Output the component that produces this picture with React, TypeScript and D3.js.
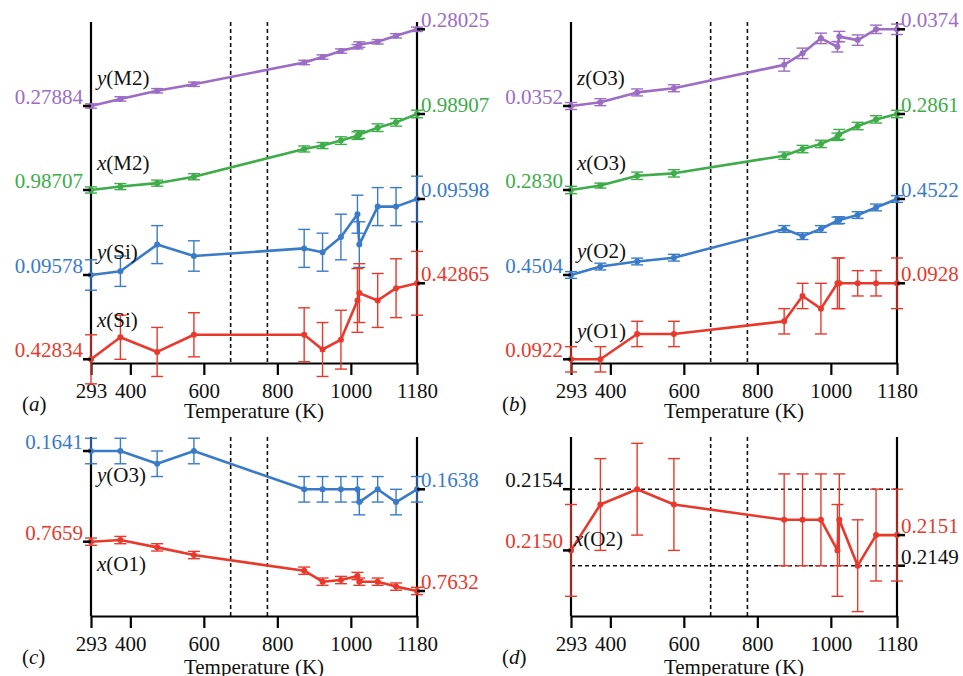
import * as d3 from "d3";
import { useEffect, useRef } from "react";

// temperatures (K) of the measurements
const temps = [293, 373, 473, 573, 873, 923, 973, 1018, 1023, 1073, 1123, 1180];
const tempTicks = [293, 400, 600, 800, 1000, 1180];
const transitionTemps = [673, 773];

// (a)
const yM2 = [0.27884, 0.27897, 0.27912, 0.27924, 0.27964, 0.27974, 0.27985, 0.27993, 0.27997, 0.28002, 0.28013, 0.28025];
const yM2Err = [0.00004, 0.00004, 0.00004, 0.00004, 0.00004, 0.00004, 0.00004, 0.00004, 0.00005, 0.00004, 0.00004, 0.00004];
const xM2 = [0.98707, 0.98716, 0.98725, 0.98742, 0.98815, 0.98824, 0.98837, 0.9885, 0.98853, 0.98871, 0.98885, 0.98907];
const xM2Err = [0.00008, 0.00008, 0.00008, 0.00008, 0.00008, 0.00008, 0.0001, 0.0001, 0.0001, 0.0001, 0.0001, 0.0001];
const ySi = [0.09578, 0.09579, 0.09586, 0.09583, 0.09585, 0.09584, 0.09588, 0.09594, 0.09586, 0.09596, 0.09596, 0.09598];
const ySiErr = [0.00004, 0.00004, 0.00005, 0.00004, 0.00005, 0.00005, 0.00006, 0.00005, 0.00006, 0.00005, 0.00005, 0.00006];
const xSi = [0.42834, 0.42843, 0.42837, 0.42844, 0.42844, 0.42838, 0.42842, 0.42858, 0.42861, 0.42858, 0.42863, 0.42865];
const xSiErr = [0.0001, 0.00009, 0.0001, 0.00009, 0.00011, 0.00011, 0.00012, 0.00013, 0.00012, 0.00011, 0.00012, 0.00013];

// (b)
const zO3 = [0.0352, 0.03531, 0.03559, 0.03571, 0.03638, 0.03671, 0.03714, 0.0369, 0.03719, 0.03709, 0.0374, 0.0374];
const zO3Err = [0.0001, 0.0001, 0.0001, 0.0001, 0.00018, 0.00015, 0.00015, 0.00015, 0.00015, 0.00015, 0.00012, 0.00015];
const xO3 = [0.283, 0.28318, 0.28358, 0.28368, 0.2844, 0.28467, 0.28488, 0.28517, 0.28527, 0.28561, 0.28588, 0.2861];
const xO3Err = [0.00015, 0.0001, 0.00015, 0.00015, 0.00015, 0.00015, 0.00015, 0.00015, 0.0002, 0.00015, 0.00015, 0.00015];
const yO2 = [0.4504, 0.4506, 0.45072, 0.45081, 0.45149, 0.45132, 0.45149, 0.45169, 0.4517, 0.45182, 0.452, 0.4522];
const yO2Err = [0.00008, 0.00008, 0.00008, 0.00008, 0.00008, 0.00008, 0.00008, 0.00008, 0.00008, 0.00008, 0.00008, 0.00008];
const yO1 = [0.0922, 0.0922, 0.0924, 0.0924, 0.0925, 0.0927, 0.0926, 0.0928, 0.0928, 0.0928, 0.0928, 0.0928];
const yO1Err = [0.0001, 0.0001, 0.0001, 0.0001, 0.0001, 0.0001, 0.0002, 0.0002, 0.0002, 0.0001, 0.0001, 0.0002];

// (c)
const yO3 = [0.1641, 0.1641, 0.164, 0.1641, 0.1638, 0.1638, 0.1638, 0.1638, 0.1637, 0.1638, 0.1637, 0.1638];
const yO3Err = [0.0001, 0.0001, 0.0001, 0.0001, 0.0001, 0.0001, 0.0001, 0.0001, 0.0001, 0.0001, 0.0001, 0.0001];
const xO1 = [0.7659, 0.76599, 0.76559, 0.76517, 0.76431, 0.76371, 0.7638, 0.76402, 0.76371, 0.76371, 0.76344, 0.7632];
const xO1Err = [0.0002, 0.0002, 0.0002, 0.0002, 0.0002, 0.0002, 0.0002, 0.0002, 0.0002, 0.0002, 0.0002, 0.0002];

// (d)
const xO2 = [0.215, 0.2153, 0.2154, 0.2153, 0.2152, 0.2152, 0.2152, 0.215, 0.2152, 0.2149, 0.2151, 0.2151];
const xO2Err = [0.0003, 0.0003, 0.0003, 0.0003, 0.0003, 0.0003, 0.0003, 0.0003, 0.0003, 0.0003, 0.0003, 0.0003];
const xO2Levels = [0.2154, 0.2149];

const FONT = "'Liberation Serif', 'DejaVu Serif', serif";
const PURPLE = "#9b6dc5";
const GREEN = "#3dac49";
const BLUE = "#3a7bc9";
const RED = "#e8392c";

type Series = {
  coord: string;
  site: string;
  color: string;
  values: number[];
  errs: number[];
  digits: number;
  yFirst: number; // pixel row of first value
  yLast: number; // pixel row of last value
  labelDy: number;
};

type Panel = {
  tag: string;
  x0: number;
  x1: number;
  top: number;
  bottom: number;
  titleDy: number;
  series: Series[];
  levels?: number[];
};

const panels: Panel[] = [
  {
    tag: "a", x0: 91, x1: 417, top: 22, bottom: 363, titleDy: 55,
    series: [
      { coord: "y", site: "(M2)", color: PURPLE, values: yM2, errs: yM2Err, digits: 5, yFirst: 106, yLast: 29.3, labelDy: -21 },
      { coord: "x", site: "(M2)", color: GREEN, values: xM2, errs: xM2Err, digits: 5, yFirst: 190, yLast: 114, labelDy: -20 },
      { coord: "y", site: "(Si)", color: BLUE, values: ySi, errs: ySiErr, digits: 5, yFirst: 275, yLast: 199, labelDy: -16 },
      { coord: "x", site: "(Si)", color: RED, values: xSi, errs: xSiErr, digits: 5, yFirst: 359.3, yLast: 283.3, labelDy: -32 },
    ],
  },
  {
    tag: "b", x0: 571, x1: 897, top: 22, bottom: 363, titleDy: 55,
    series: [
      { coord: "z", site: "(O3)", color: PURPLE, values: zO3, errs: zO3Err, digits: 4, yFirst: 106, yLast: 29.3, labelDy: -21 },
      { coord: "x", site: "(O3)", color: GREEN, values: xO3, errs: xO3Err, digits: 4, yFirst: 190, yLast: 114, labelDy: -20 },
      { coord: "y", site: "(O2)", color: BLUE, values: yO2, errs: yO2Err, digits: 4, yFirst: 275, yLast: 199, labelDy: -17 },
      { coord: "y", site: "(O1)", color: RED, values: yO1, errs: yO1Err, digits: 4, yFirst: 359.3, yLast: 283.3, labelDy: -21 },
    ],
  },
  {
    tag: "c", x0: 91, x1: 417, top: 437, bottom: 616, titleDy: 58,
    series: [
      { coord: "y", site: "(O3)", color: BLUE, values: yO3, errs: yO3Err, digits: 4, yFirst: 451, yLast: 489.3, labelDy: 31 },
      { coord: "x", site: "(O1)", color: RED, values: xO1, errs: xO1Err, digits: 4, yFirst: 541.7, yLast: 591, labelDy: 29 },
    ],
  },
  {
    tag: "d", x0: 571, x1: 897, top: 437, bottom: 616, titleDy: 58,
    series: [
      { coord: "x", site: "(O2)", color: RED, values: xO2, errs: xO2Err, digits: 4, yFirst: 550.4, yLast: 535.1, labelDy: -4 },
    ],
    levels: xO2Levels,
  },
];

export default function App() {
  const svgRef = useRef<SVGSVGElement>(null);

  useEffect(() => {
    const svg = d3.select(svgRef.current);
    svg.selectAll("*").remove();

    panels.forEach((p) => {
      const g = svg.append("g");
      const x = d3.scaleLinear().domain([293, 1180]).range([p.x0, p.x1]);

      // transition region
      transitionTemps.forEach((t) => {
        g.append("line")
          .attr("x1", x(t)).attr("x2", x(t))
          .attr("y1", p.top).attr("y2", p.bottom)
          .attr("stroke", "#111").attr("stroke-width", 1.6)
          .attr("stroke-dasharray", "4,3");
      });

      // bottom axis
      const axis = g.append("g")
        .attr("transform", `translate(0,${p.bottom})`)
        .call(d3.axisBottom(x).tickValues(tempTicks).tickFormat(d3.format("d")).tickSize(12).tickSizeOuter(0).tickPadding(8));
      axis.attr("font-family", null).attr("font-size", null);
      axis.select(".domain").attr("stroke", "#000").attr("stroke-width", 2.2);
      axis.selectAll(".tick line").attr("stroke", "#000").attr("stroke-width", 2.2);
      axis.selectAll(".tick text")
        .style("font-family", FONT).style("font-size", "21px").attr("fill", "#111");

      // side axes
      [p.x0, p.x1].forEach((xx) => {
        g.append("line")
          .attr("x1", xx).attr("x2", xx)
          .attr("y1", p.top).attr("y2", p.bottom)
          .attr("stroke", "#000").attr("stroke-width", 2.2);
      });

      // title and panel letter
      g.append("text")
        .attr("x", (p.x0 + p.x1) / 2).attr("y", p.bottom + p.titleDy)
        .attr("text-anchor", "middle")
        .style("font-family", FONT).style("font-size", "21px").attr("fill", "#111")
        .text("Temperature (K)");
      const letter = g.append("text")
        .attr("x", p.x0 - 69).attr("y", p.bottom + 48)
        .style("font-family", FONT).style("font-size", "21px").attr("fill", "#111");
      letter.append("tspan").text("(");
      letter.append("tspan").style("font-style", "italic").text(p.tag);
      letter.append("tspan").text(")");

      p.series.forEach((s) => {
        const n = s.values.length;
        const y = d3.scaleLinear()
          .domain([s.values[0], s.values[n - 1]])
          .range([s.yFirst, s.yLast]);

        // reference levels (panel d)
        if (p.levels) {
          p.levels.forEach((lv, i) => {
            g.append("line")
              .attr("x1", p.x0).attr("x2", p.x1)
              .attr("y1", y(lv)).attr("y2", y(lv))
              .attr("stroke", "#111").attr("stroke-width", 1.6)
              .attr("stroke-dasharray", "4,3");
            const onLeft = i === 0;
            g.append("line")
              .attr("x1", onLeft ? p.x0 - 8 : p.x1).attr("x2", onLeft ? p.x0 : p.x1 + 8)
              .attr("y1", y(lv)).attr("y2", y(lv))
              .attr("stroke", "#000").attr("stroke-width", 2.5);
            g.append("text")
              .attr("x", onLeft ? p.x0 - 8 : p.x1 + 4).attr("y", y(lv) - 2)
              .attr("text-anchor", onLeft ? "end" : "start")
              .style("font-family", FONT).style("font-size", "21px").attr("fill", "#111")
              .text(lv.toFixed(s.digits));
          });
        }

        // error bars
        const eb = g.append("g").attr("stroke", s.color).attr("stroke-width", 1.4);
        s.values.forEach((v, i) => {
          const cx = x(temps[i]);
          const yt = y(v + s.errs[i]);
          const yb = y(v - s.errs[i]);
          eb.append("line").attr("x1", cx).attr("x2", cx).attr("y1", yt).attr("y2", yb);
          eb.append("line").attr("x1", cx - 6).attr("x2", cx + 6).attr("y1", yt).attr("y2", yt);
          eb.append("line").attr("x1", cx - 6).attr("x2", cx + 6).attr("y1", yb).attr("y2", yb);
        });

        const line = d3.line<number>()
          .x((_, i) => x(temps[i]))
          .y((d) => y(d));
        g.append("path")
          .attr("d", line(s.values))
          .attr("fill", "none").attr("stroke", s.color).attr("stroke-width", 2.6)
          .attr("stroke-linejoin", "round");
        g.selectAll(null)
          .data(s.values)
          .enter()
          .append("circle")
          .attr("cx", (_, i) => x(temps[i]))
          .attr("cy", (d) => y(d))
          .attr("r", 3)
          .attr("fill", s.color);

        // end ticks and value labels
        const yl = y(s.values[0]);
        const yr = y(s.values[n - 1]);
        g.append("line").attr("x1", p.x0 - 8).attr("x2", p.x0).attr("y1", yl).attr("y2", yl)
          .attr("stroke", "#000").attr("stroke-width", 2.5);
        g.append("line").attr("x1", p.x1).attr("x2", p.x1 + 8).attr("y1", yr).attr("y2", yr)
          .attr("stroke", "#000").attr("stroke-width", 2.5);
        g.append("text")
          .attr("x", p.x0 - 8).attr("y", yl - 2)
          .attr("text-anchor", "end")
          .style("font-family", FONT).style("font-size", "21px").attr("fill", s.color)
          .text(s.values[0].toFixed(s.digits));
        g.append("text")
          .attr("x", p.x1 + 4).attr("y", yr - 2)
          .style("font-family", FONT).style("font-size", "21px").attr("fill", s.color)
          .text(s.values[n - 1].toFixed(s.digits));

        // series name
        const name = g.append("text")
          .attr("x", p.x0 + (p.levels ? 3 : 6)).attr("y", s.yFirst + s.labelDy)
          .style("font-family", FONT).style("font-size", "21px").attr("fill", "#111");
        name.append("tspan").style("font-style", "italic").text(s.coord);
        name.append("tspan").text(s.site);
      });
    });
  }, []);

  return (
    <svg
      ref={svgRef}
      width={963}
      height={676}
      style={{ position: "absolute", left: 0, top: 0, background: "#fff" }}
    />
  );
}
